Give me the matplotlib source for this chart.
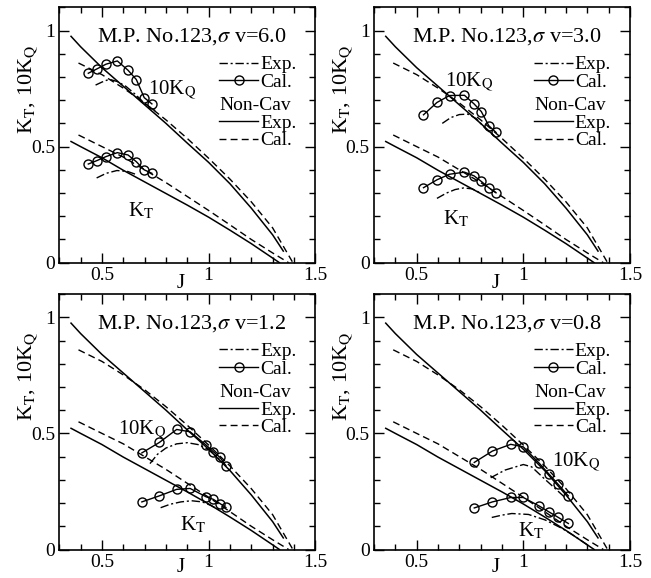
import numpy as np
import matplotlib
matplotlib.use('Agg')
import matplotlib.pyplot as plt
from matplotlib.ticker import MultipleLocator, FormatStrFormatter
from matplotlib.lines import Line2D

plt.rcParams['font.family'] = ['Liberation Serif', 'DejaVu Serif']
plt.rcParams['mathtext.fontset'] = 'stix'

# non-cavitating curves (same in every panel)
ncav_exp_j_kt = [0.355, 0.4, 0.5, 0.6, 0.7, 0.8, 0.9, 1.0, 1.1, 1.2, 1.3, 1.332]
ncav_exp_kt = [0.522, 0.50, 0.452, 0.398, 0.348, 0.298, 0.248, 0.196, 0.140, 0.082, 0.020, 0.0]
ncav_exp_j_kq = [0.355, 0.4, 0.5, 0.6, 0.7, 0.8, 0.9, 1.0, 1.1, 1.2, 1.3, 1.35]
ncav_exp_kq10 = [0.975, 0.93, 0.84, 0.76, 0.68, 0.60, 0.515, 0.432, 0.34, 0.235, 0.12, 0.05]
ncav_cal_j_kt = [0.39, 0.5, 0.6, 0.7, 0.8, 0.9, 1.0, 1.1, 1.2, 1.3, 1.375]
ncav_cal_kt = [0.55, 0.50, 0.455, 0.40, 0.345, 0.285, 0.225, 0.163, 0.10, 0.042, 0.0]
ncav_cal_j_kq = [0.39, 0.5, 0.6, 0.7, 0.8, 0.9, 1.0, 1.1, 1.2, 1.3, 1.395]
ncav_cal_kq10 = [0.86, 0.81, 0.752, 0.688, 0.615, 0.535, 0.45, 0.36, 0.262, 0.15, 0.0]

# cavitating cases
sigma_v = ['6.0', '3.0', '1.2', '0.8']

cal_j = [
    [0.436, 0.477, 0.519, 0.572, 0.622, 0.661, 0.698, 0.734],
    [0.532, 0.595, 0.654, 0.724, 0.769, 0.803, 0.838, 0.872],
    [0.687, 0.769, 0.850, 0.913, 0.988, 1.022, 1.053, 1.081],
    [0.770, 0.855, 0.941, 1.000, 1.075, 1.120, 1.164, 1.211],
]
cal_kt = [
    [0.425, 0.440, 0.457, 0.474, 0.464, 0.435, 0.400, 0.385],
    [0.323, 0.357, 0.381, 0.390, 0.374, 0.350, 0.323, 0.301],
    [0.205, 0.231, 0.259, 0.263, 0.227, 0.216, 0.198, 0.181],
    [0.179, 0.205, 0.224, 0.224, 0.187, 0.162, 0.138, 0.112],
]
cal_kq10 = [
    [0.816, 0.835, 0.855, 0.869, 0.829, 0.789, 0.711, 0.684],
    [0.637, 0.690, 0.720, 0.721, 0.684, 0.651, 0.590, 0.561],
    [0.416, 0.461, 0.517, 0.507, 0.450, 0.421, 0.397, 0.361],
    [0.375, 0.424, 0.453, 0.442, 0.371, 0.325, 0.280, 0.231],
]

exp_j_kt = [
    [0.475, 0.52, 0.57, 0.62, 0.66],
    [0.595, 0.64, 0.68, 0.72, 0.76, 0.80],
    [0.775, 0.82, 0.87, 0.92, 0.97, 1.01, 1.05],
    [0.852, 0.90, 0.946, 1.024, 1.103, 1.181, 1.24, 1.30],
]
exp_kt = [
    [0.365, 0.385, 0.397, 0.393, 0.38],
    [0.277, 0.30, 0.315, 0.322, 0.318, 0.30],
    [0.18, 0.195, 0.205, 0.21, 0.205, 0.19, 0.17],
    [0.138, 0.148, 0.155, 0.151, 0.127, 0.091, 0.058, 0.02],
]
exp_j_kq = [
    [0.47, 0.50, 0.534, 0.573, 0.613, 0.659, 0.706, 0.75],
    [0.62, 0.66, 0.70, 0.74, 0.78, 0.82, 0.87],
    [0.725, 0.76, 0.80, 0.85, 0.90, 0.95, 1.0, 1.05],
    [0.847, 0.914, 1.0, 1.039, 1.097, 1.15, 1.2],
]
exp_kq10 = [
    [0.765, 0.778, 0.79, 0.78, 0.759, 0.723, 0.68, 0.655],
    [0.60, 0.625, 0.638, 0.64, 0.62, 0.58, 0.54],
    [0.37, 0.41, 0.437, 0.455, 0.46, 0.452, 0.43, 0.39],
    [0.309, 0.342, 0.366, 0.356, 0.306, 0.262, 0.22],
]

kq_label_pos = [(0.715, 0.73), (0.633, 0.762), (0.577, 0.50), (1.133, 0.363)]
kt_label_pos = [(0.623, 0.198), (0.625, 0.167), (0.866, 0.083), (0.977, 0.059)]

axes_rects = [
    (59.3, 7.3), (374.0, 7.3), (59.3, 294.1), (374.0, 294.1),
]
j_label_y = [-0.045, -0.045, -0.032, -0.032]

W, H = 651, 578
fig = plt.figure(figsize=(W / 100, H / 100), dpi=100)

dashdot = (0, (6, 2, 1.5, 2))
dashed = (0, (5, 3))

for i in range(4):
    x0, y0 = axes_rects[i]
    ax = fig.add_axes([x0 / W, 1 - (y0 + 255.4) / H, 256 / W, 255.4 / H])

    ax.plot(ncav_exp_j_kt, ncav_exp_kt, color='black', lw=1.1)
    ax.plot(ncav_exp_j_kq, ncav_exp_kq10, color='black', lw=1.1)
    ax.plot(ncav_cal_j_kt, ncav_cal_kt, color='black', lw=1.0, linestyle=dashed)
    ax.plot(ncav_cal_j_kq, ncav_cal_kq10, color='black', lw=1.0, linestyle=dashed)
    ax.plot(exp_j_kt[i], exp_kt[i], color='black', lw=1.0, linestyle=dashdot)
    ax.plot(exp_j_kq[i], exp_kq10[i], color='black', lw=1.0, linestyle=dashdot)
    ax.plot(cal_j[i], cal_kt[i], color='black', lw=1.0, marker='o', ms=6.5,
            mfc='none', mew=1.0)
    ax.plot(cal_j[i], cal_kq10[i], color='black', lw=1.0, marker='o', ms=6.5,
            mfc='none', mew=1.0)

    ax.set_xlim(0.3, 1.5)
    ax.set_ylim(0, 1.1)
    ax.xaxis.set_major_locator(MultipleLocator(0.5))
    ax.xaxis.set_minor_locator(MultipleLocator(0.1))
    ax.yaxis.set_major_locator(MultipleLocator(0.5))
    ax.yaxis.set_minor_locator(MultipleLocator(0.1))
    ax.xaxis.set_major_formatter(FormatStrFormatter('%g'))
    ax.yaxis.set_major_formatter(FormatStrFormatter('%g'))
    ax.tick_params(which='both', direction='in', top=True, right=True,
                   labelsize=14, width=1.0)
    ax.tick_params(which='major', length=7, pad=3)
    ax.tick_params(which='minor', length=4)
    for sp in ax.spines.values():
        sp.set_linewidth(1.2)

    ax.set_xlabel('J', fontsize=15)
    ax.xaxis.set_label_coords(0.475, j_label_y[i])
    ax.set_ylabel(r'K$_\mathrm{T}$, 10K$_\mathrm{Q}$', fontsize=16)
    ax.yaxis.set_label_coords(-0.08, 0.68)

    ax.text(0.147, 0.865, r'M.P. No.123,$\sigma$ v=' + sigma_v[i],
            transform=ax.transAxes, fontsize=16, ha='left', va='baseline')
    ax.text(kq_label_pos[i][0], kq_label_pos[i][1], r'10K$_\mathrm{Q}$',
            fontsize=15, ha='left', va='baseline')
    ax.text(kt_label_pos[i][0], kt_label_pos[i][1], r'K$_\mathrm{T}$',
            fontsize=15, ha='left', va='baseline')

    h1 = [Line2D([], [], color='black', lw=1.0, linestyle=dashdot),
          Line2D([], [], color='black', lw=1.0, marker='o', ms=6.5, mfc='none')]
    leg1 = ax.legend(h1, ['Exp.', 'Cal.'], loc='upper left',
                     bbox_to_anchor=(0.625, 0.81), frameon=False, fontsize=14,
                     handlelength=2.0, handletextpad=0.1, labelspacing=0.0,
                     borderpad=0, borderaxespad=0)
    ax.add_artist(leg1)
    h2 = [Line2D([], [], color='black', lw=1.0),
          Line2D([], [], color='black', lw=1.0, linestyle=dashed)]
    leg2 = ax.legend(h2, ['Exp.', 'Cal.'], loc='upper left', title='Non-Cav',
                     title_fontsize=14, alignment='left',
                     bbox_to_anchor=(0.625, 0.648), frameon=False, fontsize=14,
                     handlelength=2.0, handletextpad=0.1, labelspacing=0.0,
                     borderpad=0, borderaxespad=0)

fig.savefig('out.png', dpi=100)
